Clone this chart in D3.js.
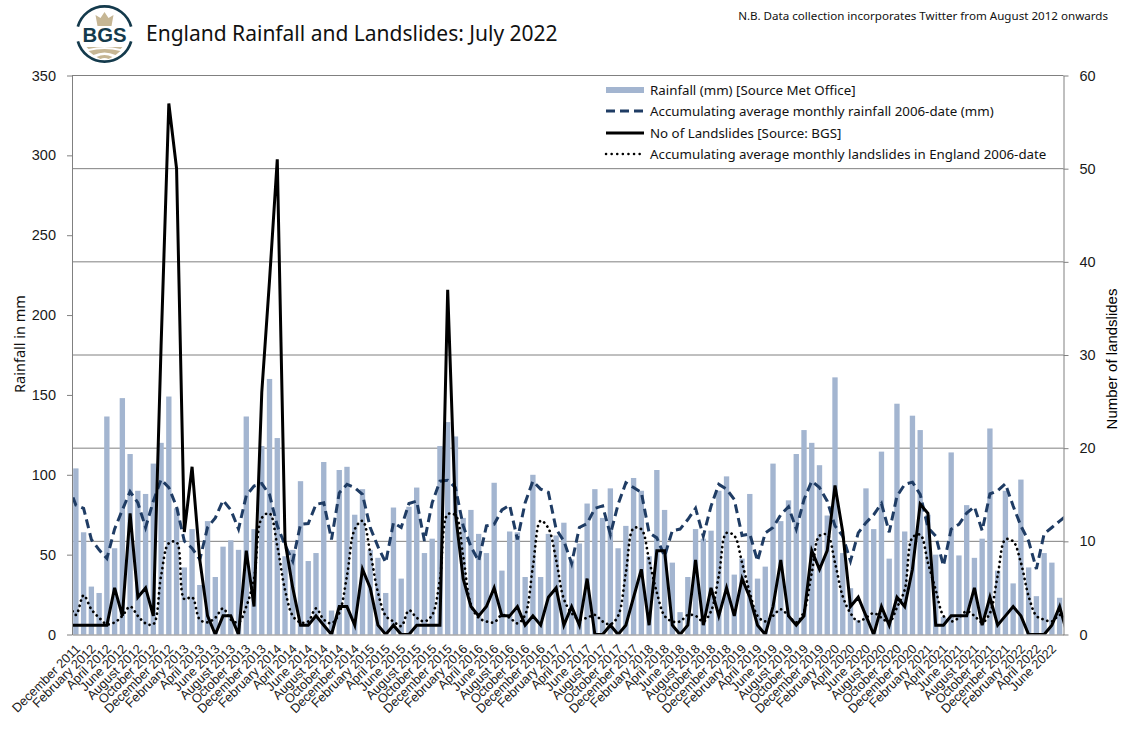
<!DOCTYPE html>
<html>
    <head>
        <meta charset="utf-8">
        <title>England Rainfall and Landslides</title>
        <script src="https://d3js.org/d3.v7.min.js"></script>
        <style>
            html, body {
                margin: 0;
                padding: 0;
                background: #FFF;
            }
            svg {
                display: block;
            }
            .tick text {
                font: 14.5px "Liberation Sans", sans-serif;
                fill: #1a1a1a;
            }
            .xaxis .tick text {
                font-size: 12.8px;
            }
            .ui {
                font-family: "Noto Sans", sans-serif;
                fill: #111;
            }
        </style>
    </head>
    <body>
        <svg id="main" width="1128" height="731"></svg>
        <script>
            // Monthly categories, December 2011 to July 2022
            const categories = d3.timeMonth.range(new Date(2011, 11, 1), new Date(2022, 7, 1));
            const formatMonth = d3.timeFormat('%B %Y');
            const rainTicks = [0, 50, 100, 150, 200, 250, 300, 350];
            const slideTicks = [0, 10, 20, 30, 40, 50, 60];

            const rainfall = [
                104, 64, 30, 26, 136.5, 54, 148, 113, 90, 88, 107, 120,
                149, 79, 42, 66, 31, 71, 36, 55, 59, 53, 136.5, 66,
                118, 160, 123, 49, 53, 96, 46, 51, 108, 15, 103, 105,
                75, 91, 53, 48, 26, 79.5, 35, 80, 92, 51, 60, 118,
                133, 124, 73, 78, 63, 51, 95, 40, 64.5, 64, 36, 100,
                36, 63, 62, 70, 47, 57, 82, 91, 73, 91.5, 54, 68,
                98, 90, 49, 103, 78, 45, 14, 36, 66, 60, 65, 90,
                99, 37.5, 47.5, 88, 35, 42.5, 107, 71, 84, 113, 128, 120,
                106, 74.5, 161, 51, 29, 9, 91.5, 66, 114.5, 47.5, 144.5, 64.5,
                137, 128, 75, 50, 11, 114, 49.5, 81, 48, 60, 129, 40,
                90, 32, 97, 42, 24, 51, 45, 23
            ];
            // The three line series run one month past each end and are clipped by the plot
            const avgRainfall = [
                94,
                81, 79, 59.5, 53, 47.6, 66, 78, 89.5, 82.5, 67, 83.5, 97,
                92, 80, 58.5, 54, 47, 67, 73, 84, 78, 66, 87, 93,
                94.5, 87.5, 68, 56, 46, 69, 69.5, 81.5, 82.5, 59.5, 88.7, 94,
                92, 87.7, 67, 55, 45, 70, 67, 82, 83.5, 58.5, 82.5, 96,
                96.6, 92, 68, 55, 46, 68, 69, 78, 81, 59.5, 82.5, 96,
                91, 89, 66, 58.5, 44.5, 67, 69.5, 79, 80.5, 62.6, 81.5, 95,
                92, 89, 63.7, 60.5, 49, 65, 66, 72, 79, 61.6, 80.4, 94,
                91, 84.5, 62, 63, 46, 63.6, 67, 75, 80, 66, 84.5, 96,
                92, 83.5, 68, 61.6, 46, 63.6, 70, 75, 82, 64, 86.6, 94,
                95.4, 87.7, 67, 61.6, 43, 66, 69, 76, 80, 65, 88, 90,
                94.4, 80.4, 68, 58.5, 41, 63, 67, 71,
                75
            ];
            const landslides = [
                1,
                1, 1, 1, 1, 1, 5, 2, 13, 4, 5, 2, 31,
                57, 50, 11, 18, 8, 2, 0, 2, 2, 0, 9, 3,
                26, 38, 51, 10, 5, 1, 1, 2, 1, 0, 3, 3,
                1, 7, 5, 1, 0, 1, 0, 0, 1, 1, 1, 1,
                37, 13, 6, 3, 2, 3, 5, 2, 2, 3, 1, 2,
                1, 4, 5, 1, 3, 1, 6, 0, 0, 1, 0, 1,
                4, 7, 1, 9, 9, 1, 0, 1, 8, 1, 5, 2,
                5, 2, 6, 4, 1, 0, 3, 8, 2, 1, 2, 9,
                7, 9, 16, 11, 3, 4, 2, 0, 3, 1, 4, 3,
                7, 14, 13, 1, 1, 2, 2, 2, 5, 1, 4, 1,
                2, 3, 2, 0, 0, 0, 1, 3,
                0
            ];
            const avgLandslides = [
                3.5,
                2.1, 4.2, 2.7, 1.8, 1.1, 1.3, 2, 3, 2, 1.2, 1.1, 6.3,
                9.8, 9.9, 3.8, 4, 1.6, 1.3, 1.8, 2.8, 1.6, 1.3, 3, 6,
                12.5, 13, 9.5, 4.8, 2, 1.3, 1.4, 2.8, 1.6, 1.2, 2.3, 6.3,
                11.3, 12.2, 8.8, 4.5, 2, 1.4, 0.9, 2.6, 1.8, 1.4, 2.1, 5.9,
                12.9, 12.8, 8.4, 3.2, 1.8, 1.4, 1.3, 2.1, 1.8, 1.2, 2.1, 7.3,
                12.2, 11.4, 8, 3.8, 2.3, 1.6, 1.8, 2.1, 1.4, 1.1, 2, 6.6,
                11.4, 11.3, 8, 4.5, 2, 1.4, 1.4, 2.1, 2, 1.4, 2.5, 6.3,
                10.9, 10.6, 7.7, 4.5, 2, 1.4, 2, 2.7, 2, 1.3, 2.5, 6.6,
                10.6, 10.7, 7.7, 4.1, 2.3, 1.4, 1.8, 2.3, 1.8, 1.3, 2.9, 4.8,
                10.4, 10.7, 7.7, 4.8, 2, 1.4, 1.8, 2.5, 2, 1.3, 2.3, 6.3,
                10.2, 10, 7.7, 4.1, 2, 1.6, 1.4, 2.1,
                1.8
            ];
            const legendLabels = [
                'Rainfall (mm) [Source Met Office]',
                'Accumulating average monthly rainfall 2006-date (mm)',
                'No of Landslides [Source: BGS]',
                'Accumulating average monthly landslides in England 2006-date'
            ];

            const colors = {bar: '#A3B5D0', avg: '#1F3C64', line: '#000', grid: '#808080'};
            const plot = {left: 72, right: 1063.5, top: 75.5, bottom: 634.5};

            const svg = d3.select('#main');
            const xBand = d3.scaleBand()
                .domain(d3.range(categories.length))
                .range([plot.left, plot.right])
                .paddingInner(0.31)
                .paddingOuter(0.155);
            const step = xBand.step();
            // Line series index 0 is the month before the first category
            const xLine = i => plot.left + (i - 0.5) * step;
            const yRain = d3.scaleLinear().domain([0, 350]).range([plot.bottom, plot.top]);
            const ySlide = d3.scaleLinear().domain([0, 60]).range([plot.bottom, plot.top]);

            svg.append('defs')
                .append('clipPath')
                .attr('id', 'plotClip')
                .append('rect')
                .attr('x', plot.left)
                .attr('y', plot.top - 5)
                .attr('width', plot.right - plot.left)
                .attr('height', plot.bottom - plot.top + 5);

            // Gridlines follow the right hand axis
            svg.append('g')
                .selectAll('line')
                .data(slideTicks.slice(1))
                .join('line')
                .attr('x1', plot.left)
                .attr('x2', plot.right)
                .attr('y1', d => ySlide(d))
                .attr('y2', d => ySlide(d))
                .attr('stroke', colors.grid)
                .attr('stroke-width', 1);

            svg.append('g')
                .selectAll('rect')
                .data(rainfall)
                .join('rect')
                .attr('x', (d, i) => xBand(i))
                .attr('y', d => yRain(d))
                .attr('width', xBand.bandwidth())
                .attr('height', d => plot.bottom - yRain(d))
                .attr('fill', colors.bar);

            const lineLayer = svg.append('g').attr('clip-path', 'url(#plotClip)');
            const straight = d3.line().x((d, i) => xLine(i));

            lineLayer.append('path')
                .attr('d', straight.y(d => yRain(d))(avgRainfall))
                .attr('fill', 'none')
                .attr('stroke', colors.avg)
                .attr('stroke-width', 3)
                .attr('stroke-dasharray', '9 5');
            lineLayer.append('path')
                .attr('d', straight.y(d => ySlide(d))(landslides))
                .attr('fill', 'none')
                .attr('stroke', colors.line)
                .attr('stroke-width', 3);
            lineLayer.append('path')
                .attr('d', d3.line()
                    .x((d, i) => xLine(i))
                    .y(d => ySlide(d))
                    .curve(d3.curveCatmullRom.alpha(0.5))(avgLandslides))
                .attr('fill', 'none')
                .attr('stroke', colors.line)
                .attr('stroke-width', 2.7)
                .attr('stroke-linecap', 'round')
                .attr('stroke-dasharray', '0.1 5');

            // Axes
            function styleAxis(g) {
                g.selectAll('.domain').attr('stroke', colors.grid);
                g.selectAll('.tick line').attr('stroke', colors.grid);
            }
            svg.append('g')
                .attr('transform', `translate(${plot.left} 0)`)
                .call(d3.axisLeft(yRain).tickValues(rainTicks).tickSize(5).tickPadding(11).tickSizeOuter(0))
                .call(styleAxis);
            svg.append('g')
                .attr('transform', `translate(${plot.right} 0)`)
                .call(d3.axisRight(ySlide).tickValues(slideTicks).tickSize(5).tickPadding(11).tickSizeOuter(0))
                .call(styleAxis);
            svg.append('g')
                .attr('class', 'xaxis')
                .attr('transform', `translate(0 ${plot.bottom})`)
                .call(d3.axisBottom(xBand)
                    .tickValues(d3.range(0, categories.length, 2))
                    .tickFormat(i => formatMonth(categories[i]))
                    .tickSize(0)
                    .tickSizeOuter(0))
                .call(styleAxis)
                .selectAll('.tick text')
                .attr('text-anchor', 'end')
                .attr('dy', 0)
                .attr('transform', 'translate(3 13) rotate(-45)');

            svg.append('text')
                .attr('class', 'ui')
                .attr('transform', 'translate(25 344) rotate(-90)')
                .attr('text-anchor', 'middle')
                .style('font-size', '14.5px')
                .text('Rainfall in mm');
            svg.append('text')
                .attr('transform', 'translate(1117 359) rotate(-90)')
                .attr('text-anchor', 'middle')
                .style('font', '15px "Liberation Sans", sans-serif')
                .text('Number of landslides');

            // Legend
            const legendRows = [90, 111, 133, 154];
            const legend = svg.append('g');
            legend.append('rect')
                .attr('x', 606).attr('y', legendRows[0] - 3)
                .attr('width', 38).attr('height', 6)
                .attr('fill', colors.bar);
            legend.append('line')
                .attr('x1', 606).attr('x2', 644)
                .attr('y1', legendRows[1]).attr('y2', legendRows[1])
                .attr('stroke', colors.avg).attr('stroke-width', 3)
                .attr('stroke-dasharray', '9 5');
            legend.append('line')
                .attr('x1', 606).attr('x2', 644)
                .attr('y1', legendRows[2]).attr('y2', legendRows[2])
                .attr('stroke', colors.line).attr('stroke-width', 3);
            legend.append('line')
                .attr('x1', 606).attr('x2', 644)
                .attr('y1', legendRows[3]).attr('y2', legendRows[3])
                .attr('stroke', colors.line).attr('stroke-width', 2.5)
                .attr('stroke-linecap', 'round')
                .attr('stroke-dasharray', '0.1 5.5');
            legend.selectAll('text')
                .data(legendLabels)
                .join('text')
                .attr('class', 'ui')
                .attr('x', 650)
                .attr('y', (d, i) => legendRows[i] + 4.5)
                .style('font-size', '13.3px')
                .text(d => d);

            // Header
            svg.append('text')
                .attr('class', 'ui')
                .attr('x', 146)
                .attr('y', 41)
                .style('font-size', '21px')
                .text('England Rainfall and Landslides: July 2022');
            svg.append('text')
                .attr('class', 'ui')
                .attr('x', 1108)
                .attr('y', 20)
                .attr('text-anchor', 'end')
                .style('font-size', '11.6px')
                .text('N.B. Data collection incorporates Twitter from August 2012 onwards');

            // BGS logo
            const logo = svg.append('g').attr('transform', 'translate(104.5 34)');
            const ring = d3.arc().innerRadius(26.3).outerRadius(29);
            logo.selectAll('path.ring')
                .data([[-1.3, 1.3], [1.84, 4.44]])
                .join('path')
                .attr('class', 'ring')
                .attr('d', d => ring({startAngle: d[0], endAngle: d[1]}))
                .attr('fill', '#143A4C');
            logo.append('text')
                .attr('text-anchor', 'middle')
                .attr('y', 7.5)
                .style('font', 'bold 20px "Liberation Sans", sans-serif')
                .attr('textLength', 44)
                .attr('lengthAdjust', 'spacingAndGlyphs')
                .attr('fill', '#143A4C')
                .text('BGS');
            logo.append('path')
                .attr('d', 'M-7,-8 L-9,-19 L-4,-16 L0,-22 L4,-16 L9,-19 L7,-8 Z')
                .attr('fill', '#C6B694');
            logo.append('path')
                .attr('d', 'M-18,13 L18,13 L16,15 Q0,11 -16,15 Z M-16,17 Q0,13 16,17 L11,21 Q0,16 -11,21 Z M-8,23 Q0,19 8,23 L4,25 Q0,23 -4,25 Z')
                .attr('fill', '#C6B694');
        </script>
    </body>
</html>
